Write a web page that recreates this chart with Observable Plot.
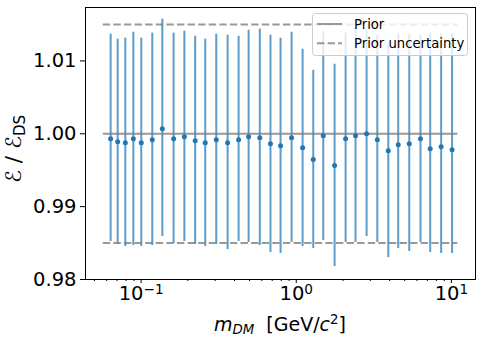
<!DOCTYPE html>
<html><head><meta charset="utf-8">
<script src="https://cdn.jsdelivr.net/npm/d3@7"></script>
<script src="https://cdn.jsdelivr.net/npm/@observablehq/plot@0.6"></script>
<style>
body{margin:0;background:#fff;font-family:"DejaVu Sans",sans-serif;}
#wrap{position:relative;width:482px;height:344px;}
</style></head><body><div id="wrap"></div>
<script>
// ---- data ----
const mass = [0.0636, 0.0706, 0.0791, 0.0891, 0.1002, 0.118, 0.137, 0.162, 0.190, 0.223, 0.259, 0.305, 0.361, 0.425, 0.493, 0.582, 0.682, 0.792, 0.933, 1.099, 1.287, 1.493, 1.766, 2.08, 2.41, 2.84, 3.33, 3.92, 4.54, 5.35, 6.32, 7.30, 8.59, 10.1];
const ratio = [0.99931, 0.99890, 0.99876, 0.99931, 0.99876, 0.99917, 1.00069, 0.99931, 0.99959, 0.99904, 0.99876, 0.99917, 0.99876, 0.99917, 0.99959, 0.99945, 0.99862, 0.99835, 0.99945, 0.99807, 0.99646, 0.99972, 0.99564, 0.99931, 0.99972, 1.00000, 0.99917, 0.99766, 0.99849, 0.99862, 0.99931, 0.99794, 0.99821, 0.99780];
const ratioHi = [1.01367, 1.01298, 1.01312, 1.01394, 1.01312, 1.01381, 1.01573, 1.01381, 1.01408, 1.01339, 1.01298, 1.01367, 1.01353, 1.01339, 1.01422, 1.01436, 1.01353, 1.01312, 1.01394, 1.01160, 1.00871, 1.01408, 1.00954, 1.01381, 1.01422, 1.01422, 1.01353, 1.01229, 1.01367, 1.01367, 1.01353, 1.01381, 1.01367, 1.01367];
const ratioLo = [0.98522, 0.98480, 0.98453, 0.98467, 0.98453, 0.98467, 0.98591, 0.98494, 0.98522, 0.98480, 0.98453, 0.98480, 0.98412, 0.98522, 0.98508, 0.98467, 0.98370, 0.98357, 0.98508, 0.98453, 0.98425, 0.98535, 0.98178, 0.98508, 0.98508, 0.98591, 0.98508, 0.98301, 0.98425, 0.98384, 0.98508, 0.98370, 0.98357, 0.98357];
const priorValue = 1.0;
const priorUncertainty = 0.015;
const priorMassRange = [0.057, 11.0];
const legendLabels = ["Prior", "Prior uncertainty"];
const xMajorTicks = [0.1, 1, 10];
const xMajorLabels = ["10^−1", "10^0", "10^1"];
const xMinorTicks = [0.05, 0.06, 0.07, 0.08, 0.09, 0.2, 0.3, 0.4, 0.5, 0.6, 0.7, 0.8, 0.9, 2, 3, 4, 5, 6, 7, 8, 9];
const yTicks = [0.98, 0.99, 1.00, 1.01];

// ---- build ----
const points = mass.map((m, i) => ({m, r: ratio[i], lo: ratioLo[i], hi: ratioHi[i]}));
const priorLines = [
  {y: priorValue, dash: null},
  {y: priorValue - priorUncertainty, dash: "7.4,3.2"},
  {y: priorValue + priorUncertainty, dash: "7.4,3.2"}
];
const blue = "#1f77b4";
const FS = 19.5;

const chart = Plot.plot({
  width: 482, height: 344,
  marginLeft: 85, marginRight: 7, marginTop: 7, marginBottom: 65,
  style: {fontFamily: "DejaVu Sans, sans-serif", fontSize: FS + "px", background: "white", overflow: "visible"},
  x: {type: "log", domain: [0.0438, 14.3]},
  y: {domain: [0.98, 1.01733]},
  marks: [
    Plot.ruleX(points, {x: "m", y1: "lo", y2: "hi", stroke: blue, strokeOpacity: 0.73, strokeWidth: 2}),
    ...priorLines.map(p => Plot.ruleY([p.y], {x1: priorMassRange[0], x2: priorMassRange[1], stroke: "gray", strokeOpacity: 0.8, strokeWidth: 2, strokeDasharray: p.dash})),
    Plot.dot(points, {x: "m", y: "r", r: 2.5, fill: blue, stroke: "none"}),
    Plot.frame({stroke: "black", strokeWidth: 1}),
    Plot.axisY({ticks: yTicks, tickFormat: d3.format(".2f"), tickSize: 5, tickPadding: 4, label: null, fontSize: FS, fill: "black"}),
    Plot.axisX({ticks: xMinorTicks, tickSize: 2, tickFormat: () => "", label: null}),
    Plot.axisX({ticks: xMajorTicks, tickSize: 4, tickPadding: 3, fontSize: FS, fill: "black", tickFormat: (d) => xMajorLabels[xMajorTicks.indexOf(d)], label: null})
  ]
});
document.getElementById("wrap").appendChild(chart);

const svg = d3.select(chart);

// superscript exponents in x tick labels
svg.selectAll('g[aria-label="x-axis tick label"] text').each(function() {
  const t = this.textContent;
  if (!t.includes("^")) return;
  const [base, exp] = t.split("^");
  const sel = d3.select(this);
  sel.text("");
  sel.append("tspan").text(base);
  sel.append("tspan").attr("font-size", "0.7em").attr("dy", "-0.5em").text(exp);
});

// y label
const yl = svg.append("text")
  .attr("transform", "translate(21,149) rotate(-90)")
  .attr("text-anchor", "middle")
  .attr("font-size", 21.5)
  .attr("fill", "black");
yl.append("tspan").text("ℰ / ℰ");
yl.append("tspan").attr("font-size", "0.7em").attr("dy", "0.25em").text("DS");

// x label
const xl = svg.append("text")
  .attr("x", 280).attr("y", 331)
  .attr("text-anchor", "middle")
  .attr("font-size", 19)
  .attr("fill", "black");
xl.append("tspan").attr("font-style", "italic").text("m");
xl.append("tspan").attr("font-style", "italic").attr("font-size", "0.7em").attr("dy", "0.25em").text("DM");
xl.append("tspan").attr("dy", "-0.175em").text("\u00a0\u00a0[GeV/");
xl.append("tspan").attr("font-style", "italic").text("c");
xl.append("tspan").attr("font-size", "0.7em").attr("dy", "-0.5em").text("2");
xl.append("tspan").attr("dy", "0.35em").text("]");

// legend
const lg = svg.append("g");
lg.append("rect").attr("x", 312.5).attr("y", 13.5).attr("width", 155).attr("height", 42).attr("rx", 3)
  .attr("fill", "white").attr("fill-opacity", 0.8).attr("stroke", "#cccccc").attr("stroke-width", 1);
legendLabels.forEach((lab, i) => {
  const yy = 24 + i * 19.3;
  const ln = lg.append("line").attr("x1", 317).attr("x2", 342).attr("y1", yy).attr("y2", yy)
    .attr("stroke", "gray").attr("stroke-opacity", 0.8).attr("stroke-width", 2);
  if (i === 1) ln.attr("stroke-dasharray", "7.4,3.2");
  lg.append("text").attr("x", 354).attr("y", yy).attr("dy", "0.35em")
    .attr("text-anchor", "start")
    .attr("font-size", 13.2).attr("fill", "black").text(lab);
});
</script>
</body></html>
